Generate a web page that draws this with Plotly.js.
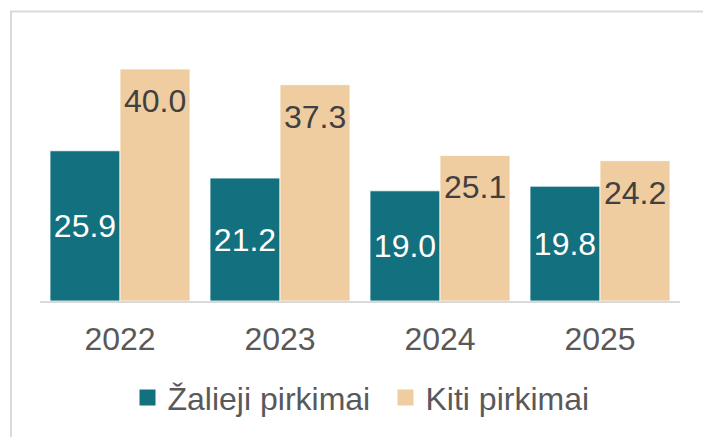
<!DOCTYPE html>
<html>
<head>
<meta charset="utf-8">
<script src="https://cdn.plot.ly/plotly-3.0.1.min.js"></script>
<style>
html,body{margin:0;padding:0;background:#fff;}
#chart{width:703px;height:437px;}
</style>
</head>
<body>
<div id="chart"></div>
<script>
const years = ["2022", "2023", "2024", "2025"];
const seriesNames = ["Žalieji pirkimai", "Kiti pirkimai"];
const zalieji = [25.9, 21.2, 19.0, 19.8];
const kiti = [40.0, 37.3, 25.1, 24.2];

const teal = "#13707f";
const beige = "#f0cda0";
const font = "Liberation Sans, Arial, sans-serif";

const traces = [
  {
    type: "bar", x: years, y: zalieji, name: seriesNames[0], showlegend: false,
    marker: {color: teal, line: {color: "#ffffff", width: 0.8}},
    texttemplate: "%{y:.1f}", textposition: "inside", insidetextanchor: "middle",
    textangle: 0, constraintext: "none",
    textfont: {family: font, size: 32, color: "#ffffff"},
    hoverinfo: "skip"
  },
  {
    type: "bar", x: years, y: kiti, name: seriesNames[1], showlegend: false,
    marker: {color: beige, line: {color: "#ffffff", width: 0.8}},
    textposition: "none",
    hoverinfo: "skip"
  },
  {
    type: "scatter", mode: "markers", x: [null], y: [null], name: seriesNames[0],
    marker: {symbol: "square", size: 17, color: teal}, showlegend: true
  },
  {
    type: "scatter", mode: "markers", x: [null], y: [null], name: seriesNames[1],
    marker: {symbol: "square", size: 17, color: beige}, showlegend: true
  }
];

// value labels of the second series, placed on the category axis (index) at the bar tops
const annotations = years.map((yr, i) => ({
  x: i, y: kiti[i], xref: "x", yref: "y",
  text: kiti[i].toFixed(1), showarrow: false,
  xanchor: "center", yanchor: "top", xshift: 35, yshift: -12,
  font: {family: font, size: 32, color: "#404040"}
}));

const layout = {
  width: 703, height: 437,
  margin: {l: 40, r: 23, t: 40, b: 136},
  paper_bgcolor: "#ffffff", plot_bgcolor: "#ffffff",
  barmode: "group", bargap: 0.125, bargroupgap: 0,
  font: {family: font, color: "#595959"},
  xaxis: {
    type: "category", range: [-0.5, years.length - 0.5], autorange: false,
    showgrid: false, zeroline: false,
    showline: true, linecolor: "#d9d9d9", linewidth: 1.5,
    ticks: "", tickfont: {family: font, size: 32, color: "#595959"},
    ticklabelstandoff: 9
  },
  yaxis: {
    range: [0, 45], autorange: false, visible: false, showgrid: false, zeroline: false
  },
  showlegend: true,
  legend: {
    orientation: "h", x: (127.5 - 40) / 640, xanchor: "left", y: -0.265, yanchor: "top",
    font: {family: font, size: 32, color: "#595959"},
    itemwidth: 30, entrywidth: 213, entrywidthmode: "pixels",
    traceorder: "normal", bgcolor: "rgba(0,0,0,0)"
  },
  annotations: annotations,
  shapes: [{
    type: "rect", xref: "paper", yref: "paper",
    x0: -29 / 640, x1: 1.2, y0: -1, y1: (301 - 11.5) / 261,
    line: {color: "#d9d9d9", width: 2}, fillcolor: "rgba(0,0,0,0)", layer: "below"
  }]
};

Plotly.newPlot("chart", traces, layout, {displayModeBar: false, staticPlot: true});
</script>
</body>
</html>
